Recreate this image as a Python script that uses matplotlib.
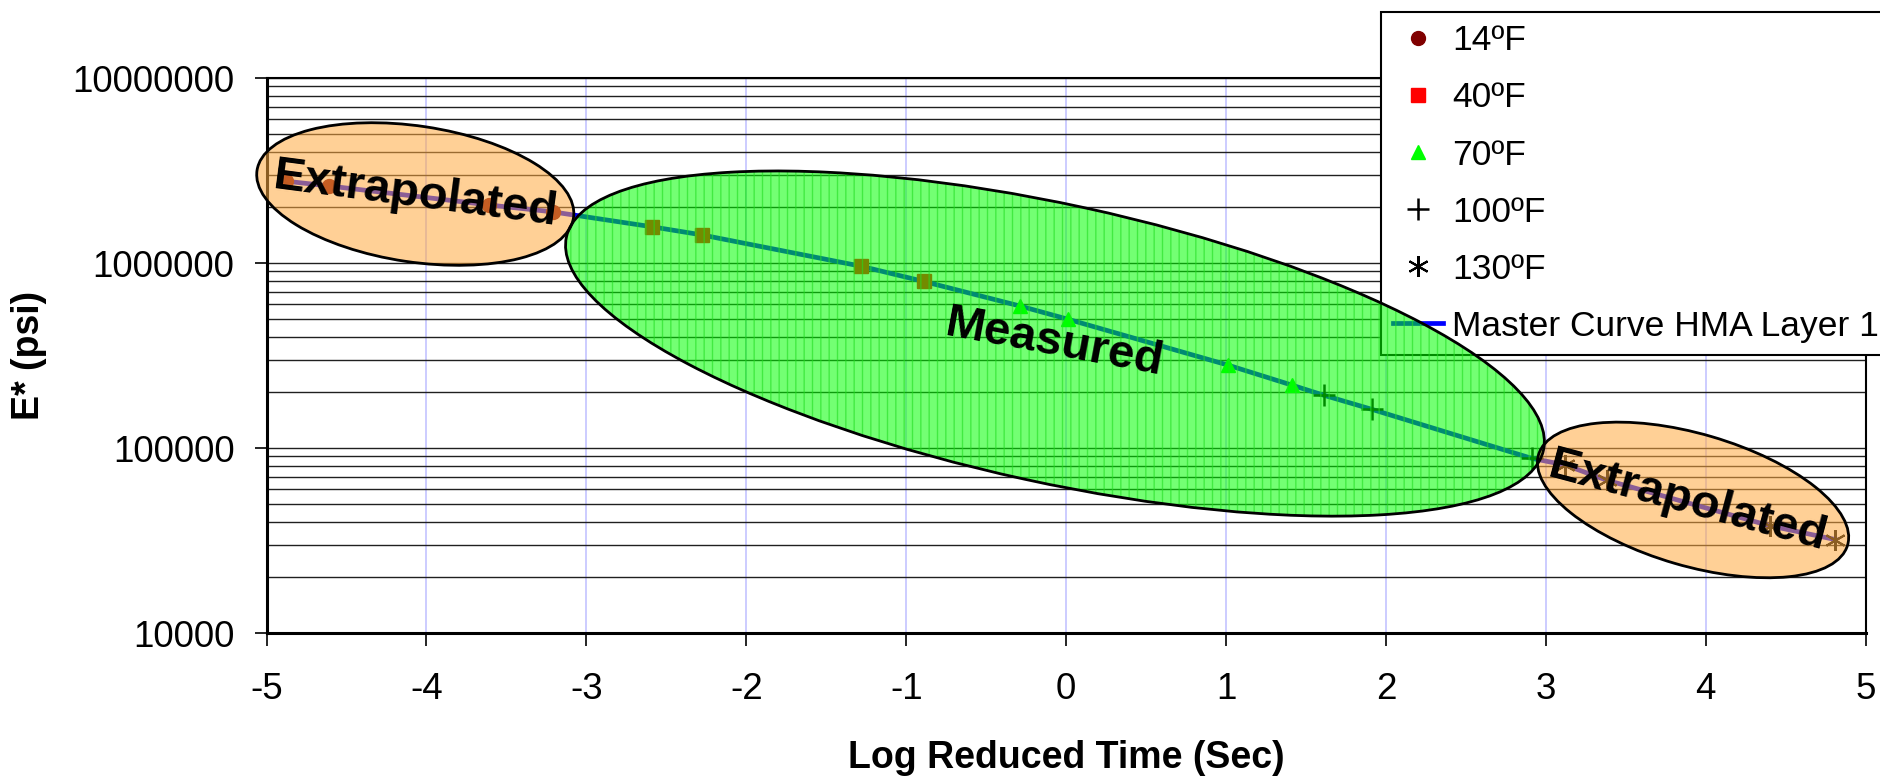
import matplotlib
matplotlib.use('Agg')
import matplotlib.pyplot as plt
from matplotlib.patches import Ellipse
from matplotlib.transforms import ScaledTranslation
from matplotlib.ticker import FixedLocator, FixedFormatter, NullFormatter

plt.rcParams['font.family'] = ['Liberation Sans', 'DejaVu Sans']
plt.rcParams['axes.unicode_minus'] = False

# --- data (log reduced time, E* psi) ---
t14_x = [-4.88, -4.61, -3.61, -3.21]
t14_e = [2.77e6, 2.61e6, 2.06e6, 1.89e6]
t40_x = [-2.59, -2.28, -1.28, -0.89]
t40_e = [1.57e6, 1.42e6, 9.6e5, 7.95e5]
t70_x = [-0.29, 0.01, 1.01, 1.41]
t70_e = [5.86e5, 4.97e5, 2.81e5, 2.19e5]
t100_x = [1.61, 1.91, 2.91]
t100_e = [1.93e5, 1.62e5, 8.8e4]
t130_x = [3.12, 3.38, 4.40, 4.81]
t130_e = [8.1e4, 6.7e4, 3.8e4, 3.2e4]

master_x = t14_x + t40_x + t70_x + t100_x + t130_x
master_e = t14_e + t40_e + t70_e + t100_e + t130_e

x_ticks = [-5, -4, -3, -2, -1, 0, 1, 2, 3, 4, 5]
y_ticks = [1e4, 1e5, 1e6, 1e7]
y_ticklabels = ['10000', '100000', '1000000', '10000000']

# region labels: (text, centre x, centre E*, rotation)
regions = [
    ('Extrapolated', -4.07, 2.33e6, -7.5),
    ('Measured', -0.07, 3.67e5, -10.5),
    ('Extrapolated', 3.89, 5.1e4, -15.0),
]
# ellipses: (centre x, centre E*, width in, height in, angle, colour)
ovals = [
    (-4.07, 2.36e6, 3.20, 1.36, -8.5, '#ffaa40'),
    (-0.07, 3.67e5, 10.0, 2.78, -12.3, '#00ff00'),
    (3.92, 5.24e4, 3.22, 1.32, -16.3, '#ffaa40'),
]

fig = plt.figure(figsize=(18.81, 7.77), dpi=100)
ax = fig.add_axes([0.1417, 0.1853, 0.8502, 0.7143])

# master curve
master, = ax.plot(master_x, master_e, color='#0000ff', lw=3.4, zorder=3,
                  label='Master Curve HMA Layer 1')

h14, = ax.plot(t14_x, t14_e, 'o', color='#800000', ms=10, ls='none', zorder=4, label='14ºF')
h40, = ax.plot(t40_x, t40_e, 's', color='#ff0000', ms=10, ls='none', zorder=4, label='40ºF')
h70, = ax.plot(t70_x, t70_e, '^', color='#00ff00', ms=10, ls='none', zorder=4, label='70ºF')
h100, = ax.plot(t100_x, t100_e, '+', color='black', ms=16, mew=1.8, ls='none', zorder=4, label='100ºF')
h130, = ax.plot(t130_x, t130_e, marker=(6, 2, 0), color='black', ms=15, mew=1.5, ls='none',
                zorder=4, label='130ºF')

ax.set_yscale('log')
ax.set_xlim(-5, 5)
ax.set_ylim(1e4, 1e7)
ax.xaxis.set_major_locator(FixedLocator(x_ticks))
ax.yaxis.set_major_locator(FixedLocator(y_ticks))
ax.yaxis.set_major_formatter(FixedFormatter(y_ticklabels))
ax.yaxis.set_minor_formatter(NullFormatter())

ax.grid(True, axis='x', color='#c8c8ff', lw=1.3, zorder=0)
ax.grid(True, axis='y', which='both', color='#202020', lw=1.0, zorder=0)
ax.set_axisbelow(True)

ax.tick_params(axis='both', which='major', direction='out', length=9, width=1.2,
               labelsize=26.5, color='black')
ax.tick_params(axis='y', which='major', pad=14)
ax.tick_params(axis='x', which='major', pad=19)
ax.tick_params(axis='y', which='minor', length=0)
for side in ['left', 'bottom', 'right', 'top']:
    ax.spines[side].set_color('black')
    ax.spines[side].set_linewidth(1.5)
ax.spines['left'].set_linewidth(2.2)
ax.spines['bottom'].set_linewidth(2.2)

ax.set_xlabel('Log Reduced Time (Sec)', fontsize=27, fontweight='bold', labelpad=24)
ax.set_ylabel('E* (psi)', fontsize=27, fontweight='bold', labelpad=18)

leg = ax.legend(handles=[h14, h40, h70, h100, h130, master], loc='upper left',
                bbox_to_anchor=(1381 / 1881, 1 - 12 / 777), bbox_transform=fig.transFigure,
                borderaxespad=0, fontsize=25.5, frameon=True, fancybox=False,
                edgecolor='black', framealpha=1, handlelength=1.4, handletextpad=0.25,
                labelspacing=0.68, borderpad=0.35)
leg.get_frame().set_linewidth(1.5)

# shaded ovals drawn on the figure so they sit over the legend too
for cx, cy, w, h, ang, col in ovals:
    tr = fig.dpi_scale_trans + ScaledTranslation(cx, cy, ax.transData)
    fig.add_artist(Ellipse((0, 0), w, h, angle=ang, transform=tr, facecolor=col,
                           alpha=0.55, edgecolor='none', zorder=1))
    if col == '#00ff00':
        fig.add_artist(Ellipse((0, 0), w, h, angle=ang, transform=tr, fill=False,
                               hatch='||', edgecolor='#22dd22', lw=0, alpha=0.6, zorder=1))
    fig.add_artist(Ellipse((0, 0), w, h, angle=ang, transform=tr, fill=False,
                           edgecolor='black', lw=2.0, zorder=1.5))

for txt, cx, cy, rot in regions:
    fig.text(cx, cy, txt, transform=ax.transData, fontsize=34, fontweight='bold',
             rotation=rot, rotation_mode='anchor', ha='center', va='center', zorder=2)

fig.savefig('out.png', dpi=100)
